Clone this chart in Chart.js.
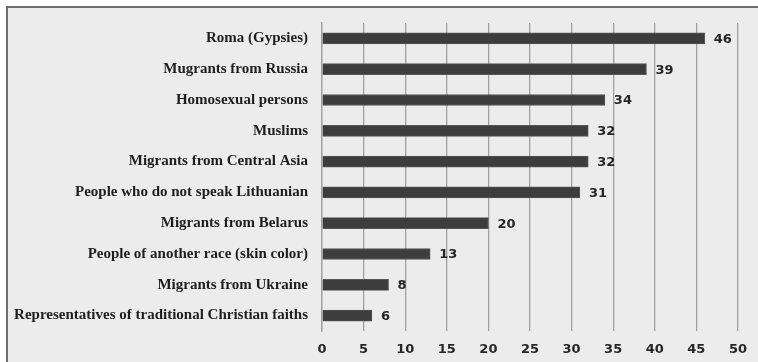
<!DOCTYPE html>
<html>
<head>
<meta charset="utf-8">
<script src="https://cdn.jsdelivr.net/npm/chart.js@4.4.0/dist/chart.umd.min.js"></script>
<style>
  html, body { margin: 0; padding: 0; background: #fff; }
  #wrap { width: 758px; height: 362px; }
</style>
</head>
<body>
<div id="wrap"><canvas id="groupsChart" width="758" height="362"></canvas></div>
<script>
// share of respondents who would not like to live next to each group (%)
const groups = [
  "Roma (Gypsies)",
  "Mugrants from Russia",
  "Homosexual persons",
  "Muslims",
  "Migrants from Central Asia",
  "People who do not speak Lithuanian",
  "Migrants from Belarus",
  "People of another race (skin color)",
  "Migrants from Ukraine",
  "Representatives of traditional Christian faiths"
];
const percents = [46, 39, 34, 32, 32, 31, 20, 13, 8, 6];
const xTicks = [0, 5, 10, 15, 20, 25, 30, 35, 40, 45, 50];

// panel background with the dark top and left edges
const panelBg = {
  id: "panelBg",
  beforeDraw(chart) {
    const ctx = chart.ctx;
    ctx.save();
    ctx.fillStyle = "#ffffff";
    ctx.fillRect(0, 0, chart.width, chart.height);
    ctx.fillStyle = "#ececec";
    ctx.fillRect(6, 7, chart.width - 6, chart.height - 7);
    ctx.strokeStyle = "#6e6e6e";
    ctx.lineWidth = 2;
    ctx.beginPath();
    ctx.moveTo(6, 7);
    ctx.lineTo(chart.width, 7);
    ctx.moveTo(7, 7);
    ctx.lineTo(7, chart.height);
    ctx.stroke();
    ctx.restore();
  }
};

// value printed just past the end of each bar
const valueLabels = {
  id: "valueLabels",
  afterDatasetsDraw(chart) {
    const ctx = chart.ctx;
    const meta = chart.getDatasetMeta(0);
    ctx.save();
    ctx.font = "bold 13px 'DejaVu Sans'";
    ctx.fillStyle = "#262626";
    ctx.textAlign = "left";
    ctx.textBaseline = "middle";
    meta.data.forEach((bar, i) => {
      ctx.fillText(String(percents[i]), bar.x + 9, bar.y + 1);
    });
    ctx.restore();
  }
};

new Chart("groupsChart", {
  type: "bar",
  data: {
    labels: groups,
    datasets: [
      {
        data: percents,
        backgroundColor: "#3d3d3d",
        borderColor: "#555555",
        borderWidth: 1,
        barThickness: 11
      }
    ]
  },
  options: {
    indexAxis: "y",
    responsive: false,
    animation: false,
    layout: { padding: { top: 23, right: 19, left: 0, bottom: 0 } },
    plugins: {
      legend: { display: false },
      tooltip: { enabled: false }
    },
    scales: {
      x: {
        min: 0,
        max: 50,
        afterBuildTicks(scale) {
          scale.ticks = xTicks.map(v => ({ value: v }));
        },
        afterFit(scale) { scale.height = 31; },
        grid: { color: "#a0a0a0", lineWidth: 1.3, drawTicks: false },
        border: { display: false },
        ticks: {
          padding: 11,
          color: "#262626",
          font: { family: "'DejaVu Sans'", size: 13, weight: "bold" }
        }
      },
      y: {
        afterFit(scale) { scale.width = 322; },
        grid: { display: false, drawTicks: false },
        border: { color: "#a0a0a0", width: 1.3 },
        ticks: {
          padding: 14,
          color: "#1e1e1e",
          font: { family: "'Liberation Serif'", size: 15, weight: "bold" }
        }
      }
    }
  },
  plugins: [panelBg, valueLabels]
});
</script>
</body>
</html>
